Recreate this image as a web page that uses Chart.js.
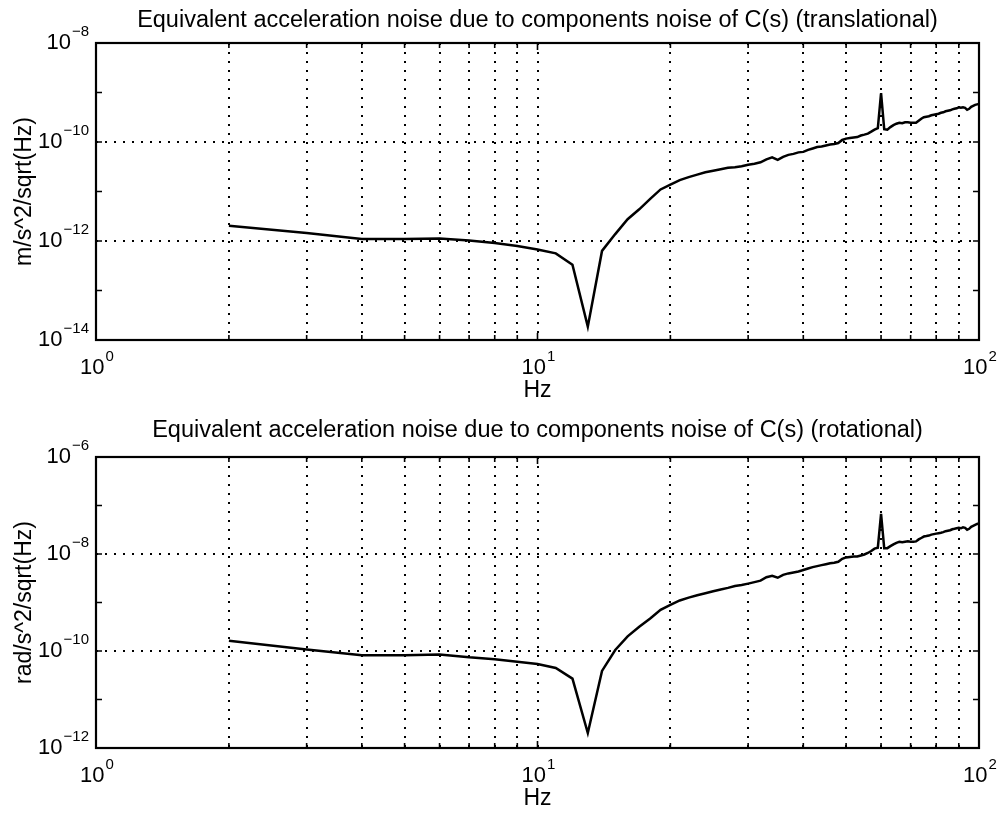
<!DOCTYPE html>
<html>
<head>
<meta charset="utf-8">
<title>Equivalent acceleration noise due to components noise of C(s)</title>
<script src="https://cdn.jsdelivr.net/npm/chart.js@4.4.0/dist/chart.umd.min.js"></script>
<style>
    body { margin: 0; background: #fff; }
    #wrap { position: relative; width: 999px; height: 815px; }
    canvas { position: absolute; left: 0; }
</style>
</head>
<body>
<div id="wrap">
    <canvas id="transChart" width="999" height="407" style="top:0px"></canvas>
    <canvas id="rotChart" width="999" height="408" style="top:407px"></canvas>
</div>
<script>
// frequency grid (Hz)
var freqs = [2, 3, 4, 5, 6, 7, 8, 9, 10, 11, 12, 13, 14, 15, 16, 17, 18, 19, 20,
    21, 22, 23, 24, 25, 26, 27, 28, 29, 30, 31, 32, 33, 34, 35, 36, 37, 38, 39, 40,
    41, 42, 43, 44, 45, 46, 47, 48, 49, 50, 51, 52, 53, 54, 55, 56, 57, 58, 59, 60,
    61, 62, 63, 64, 65, 66, 67, 68, 69, 70, 71, 72, 73, 74, 75, 76, 77, 78, 79, 80,
    81, 82, 83, 84, 85, 86, 87, 88, 89, 90, 91, 92, 93, 94, 95, 96, 97, 98, 99, 100];

// translational noise, m/s^2/sqrt(Hz)
var transNoise = [2.04e-12, 1.45e-12, 1.10e-12, 1.10e-12, 1.12e-12, 1.02e-12, 9.12e-13, 7.94e-13, 6.76e-13,
    5.62e-13, 3.31e-13, 1.86e-14, 6.31e-13, 1.38e-12, 2.75e-12, 4.37e-12, 7.08e-12, 1.10e-11, 1.38e-11,
    1.70e-11, 1.95e-11, 2.19e-11, 2.45e-11, 2.63e-11, 2.82e-11, 3.02e-11, 3.09e-11, 3.24e-11, 3.47e-11,
    3.63e-11, 3.89e-11, 4.47e-11, 4.90e-11, 4.37e-11, 5.01e-11, 5.50e-11, 5.75e-11, 6.17e-11, 6.31e-11,
    6.92e-11, 7.41e-11, 7.94e-11, 8.13e-11, 8.51e-11, 8.91e-11, 9.12e-11, 9.55e-11, 1.10e-10, 1.17e-10,
    1.20e-10, 1.23e-10, 1.26e-10, 1.35e-10, 1.41e-10, 1.48e-10, 1.62e-10, 1.78e-10, 1.91e-10, 9.77e-10,
    1.82e-10, 1.78e-10, 2.00e-10, 2.19e-10, 2.34e-10, 2.45e-10, 2.40e-10, 2.51e-10, 2.51e-10, 2.45e-10,
    2.45e-10, 2.45e-10, 2.69e-10, 2.95e-10, 3.16e-10, 3.24e-10, 3.31e-10, 3.47e-10, 3.55e-10, 3.63e-10,
    3.72e-10, 3.89e-10, 3.98e-10, 4.17e-10, 4.27e-10, 4.37e-10, 4.57e-10, 4.68e-10, 4.79e-10, 5.01e-10,
    4.90e-10, 5.01e-10, 4.90e-10, 4.47e-10, 4.68e-10, 5.13e-10, 5.37e-10, 5.62e-10, 5.75e-10, 5.89e-10];

// rotational noise, rad/s^2/sqrt(Hz)
var rotNoise = [1.62e-10, 1.07e-10, 8.13e-11, 8.13e-11, 8.51e-11, 7.41e-11, 6.76e-11, 6.03e-11, 5.37e-11,
    4.47e-11, 2.69e-11, 2.04e-12, 3.89e-11, 1.05e-10, 2.00e-10, 3.16e-10, 4.68e-10, 7.08e-10, 8.91e-10,
    1.10e-9, 1.26e-9, 1.41e-9, 1.55e-9, 1.70e-9, 1.86e-9, 2.00e-9, 2.19e-9, 2.29e-9, 2.45e-9,
    2.63e-9, 2.82e-9, 3.31e-9, 3.55e-9, 3.24e-9, 3.72e-9, 3.98e-9, 4.17e-9, 4.37e-9, 4.68e-9,
    5.01e-9, 5.37e-9, 5.62e-9, 5.89e-9, 6.17e-9, 6.46e-9, 6.61e-9, 6.92e-9, 7.94e-9, 8.51e-9,
    8.71e-9, 8.91e-9, 8.91e-9, 9.33e-9, 9.77e-9, 1.05e-8, 1.15e-8, 1.29e-8, 1.35e-8, 6.76e-8,
    1.32e-8, 1.32e-8, 1.45e-8, 1.58e-8, 1.70e-8, 1.78e-8, 1.74e-8, 1.78e-8, 1.82e-8, 1.78e-8,
    1.78e-8, 1.82e-8, 2.00e-8, 2.14e-8, 2.29e-8, 2.34e-8, 2.40e-8, 2.51e-8, 2.57e-8, 2.63e-8,
    2.69e-8, 2.75e-8, 2.82e-8, 2.95e-8, 3.02e-8, 3.09e-8, 3.24e-8, 3.31e-8, 3.39e-8, 3.47e-8,
    3.39e-8, 3.55e-8, 3.47e-8, 3.16e-8, 3.31e-8, 3.63e-8, 3.80e-8, 3.98e-8, 4.17e-8, 4.27e-8];

// axes
var xTicks = [1, 2, 3, 4, 5, 6, 7, 8, 9, 10, 20, 30, 40, 50, 60, 70, 80, 90, 100];
var xLabelTicks = [1, 10, 100];
var xLabelExps = [0, 1, 2];

var transYTicks = [1e-14, 1e-13, 1e-12, 1e-11, 1e-10, 1e-9, 1e-8];
var transYLabelTicks = [1e-14, 1e-12, 1e-10, 1e-8];
var transYLabelExps = [-14, -12, -10, -8];

var rotYTicks = [1e-12, 1e-11, 1e-10, 1e-9, 1e-8, 1e-7, 1e-6];
var rotYLabelTicks = [1e-12, 1e-10, 1e-8, 1e-6];
var rotYLabelExps = [-12, -10, -8, -6];

var FONT = '"Liberation Sans", Arial, Helvetica, sans-serif';

function drawPow10(ctx, exp, x, y, align) {
    var base = '10';
    var sup = exp < 0 ? '\u2212' + (-exp) : String(exp);
    ctx.font = '22px ' + FONT;
    var wb = ctx.measureText(base).width;
    ctx.font = '15px ' + FONT;
    var ws = ctx.measureText(sup).width;
    var total = wb + 1 + ws;
    var left = align === 'center' ? x - total / 2 : x - total;
    ctx.textAlign = 'left';
    ctx.textBaseline = 'alphabetic';
    ctx.font = '22px ' + FONT;
    ctx.fillText(base, left, y);
    ctx.font = '15px ' + FONT;
    ctx.fillText(sup, left + wb + 1, y - 13);
}

// matlab style frame: box, inward ticks, 10^n labels, titles
var matlabFrame = {
    id: 'matlabFrame',
    afterDraw: function(chart, args, opts) {
        var ctx = chart.ctx;
        var a = chart.chartArea;
        var xs = chart.scales.x, ys = chart.scales.y;
        ctx.save();
        ctx.strokeStyle = '#000';
        ctx.fillStyle = '#000';

        // box
        ctx.lineWidth = 2.2;
        ctx.strokeRect(a.left, a.top, a.right - a.left, a.bottom - a.top);

        // x ticks, bottom and top, pointing in
        ctx.lineWidth = 1.6;
        xTicks.forEach(function(v) {
            var px = xs.getPixelForValue(v);
            var len = xLabelTicks.indexOf(v) >= 0 ? 7 : 5;
            ctx.beginPath();
            ctx.moveTo(px, a.bottom); ctx.lineTo(px, a.bottom - len);
            ctx.moveTo(px, a.top); ctx.lineTo(px, a.top + len);
            ctx.stroke();
        });
        // y ticks, left and right
        opts.yTicks.forEach(function(v) {
            var py = ys.getPixelForValue(v);
            ctx.beginPath();
            ctx.moveTo(a.left, py); ctx.lineTo(a.left + 6, py);
            ctx.moveTo(a.right, py); ctx.lineTo(a.right - 6, py);
            ctx.stroke();
        });

        // tick labels
        xLabelTicks.forEach(function(v, i) {
            drawPow10(ctx, xLabelExps[i], xs.getPixelForValue(v) + 1, a.bottom + 34, 'center');
        });
        opts.yLabelTicks.forEach(function(v, i) {
            drawPow10(ctx, opts.yLabelExps[i], a.left - 7, ys.getPixelForValue(v) + 6, 'right');
        });

        // title, x label, y label
        ctx.font = '23.5px ' + FONT;
        ctx.textAlign = 'center';
        ctx.textBaseline = 'alphabetic';
        var cx = (a.left + a.right) / 2;
        ctx.fillText(opts.title, cx, a.top - opts.titleGap);
        ctx.font = '23px ' + FONT;
        ctx.fillText('Hz', cx, a.bottom + 57);

        ctx.font = '23px ' + FONT;
        ctx.translate(25, (a.top + a.bottom) / 2);
        ctx.rotate(-Math.PI / 2);
        ctx.textBaseline = 'middle';
        ctx.fillText(opts.yTitle, 0, 0);
        ctx.restore();
    }
};

function makePoints(ys) {
    var pts = [];
    for (var i = 0; i < freqs.length; i++) {
        pts.push({ x: freqs[i], y: ys[i] });
    }
    return pts;
}

function makeChart(id, values, yMin, yMax, yTicks, yLabelTicks, yLabelExps, title, yTitle, padTop, titleGap) {
    var ctx = document.getElementById(id);
    return new Chart(ctx, {
        type: 'line',
        data: {
            datasets: [{
                data: makePoints(values),
                borderColor: '#000',
                borderWidth: 2.5,
                pointRadius: 0,
                tension: 0,
                fill: false
            }]
        },
        options: {
            responsive: false,
            animation: false,
            devicePixelRatio: 1,
            layout: { padding: { top: padTop, right: 20, left: 0, bottom: 0 } },
            plugins: {
                legend: { display: false },
                title: { display: false },
                tooltip: { enabled: false },
                matlabFrame: {
                    yTicks: yTicks,
                    yLabelTicks: yLabelTicks,
                    yLabelExps: yLabelExps,
                    title: title,
                    yTitle: yTitle,
                    titleGap: titleGap
                }
            },
            scales: {
                x: {
                    type: 'logarithmic',
                    min: 1,
                    max: 100,
                    afterBuildTicks: function(scale) {
                        scale.ticks = xTicks.map(function(v) { return { value: v }; });
                    },
                    afterFit: function(scale) { scale.height = 67; },
                    ticks: { display: false },
                    grid: {
                        drawTicks: false,
                        color: function(c) {
                            var v = c.tick && c.tick.value;
                            return (v === 1 || v === 100) ? 'rgba(0,0,0,0)' : '#000';
                        },
                        lineWidth: 2
                    },
                    border: { display: false, dash: [2, 7] }
                },
                y: {
                    type: 'logarithmic',
                    min: yMin,
                    max: yMax,
                    afterBuildTicks: function(scale) {
                        scale.ticks = yTicks.map(function(v) { return { value: v }; });
                    },
                    afterFit: function(scale) { scale.width = 96; },
                    ticks: { display: false },
                    grid: {
                        drawTicks: false,
                        color: function(c) {
                            var v = c.tick && c.tick.value;
                            if (v === yMin || v === yMax) return 'rgba(0,0,0,0)';
                            return yLabelTicks.indexOf(v) >= 0 ? '#000' : 'rgba(0,0,0,0)';
                        },
                        lineWidth: 2
                    },
                    border: { display: false, dash: [2, 7] }
                }
            }
        },
        plugins: [matlabFrame]
    });
}

makeChart('transChart', transNoise, 1e-14, 1e-8, transYTicks, transYLabelTicks, transYLabelExps,
    'Equivalent acceleration noise due to components noise of C(s) (translational)',
    'm/s^2/sqrt(Hz)', 43, 16);

makeChart('rotChart', rotNoise, 1e-12, 1e-6, rotYTicks, rotYLabelTicks, rotYLabelExps,
    'Equivalent acceleration noise due to components noise of C(s) (rotational)',
    'rad/s^2/sqrt(Hz)', 50, 20);
</script>
</body>
</html>
